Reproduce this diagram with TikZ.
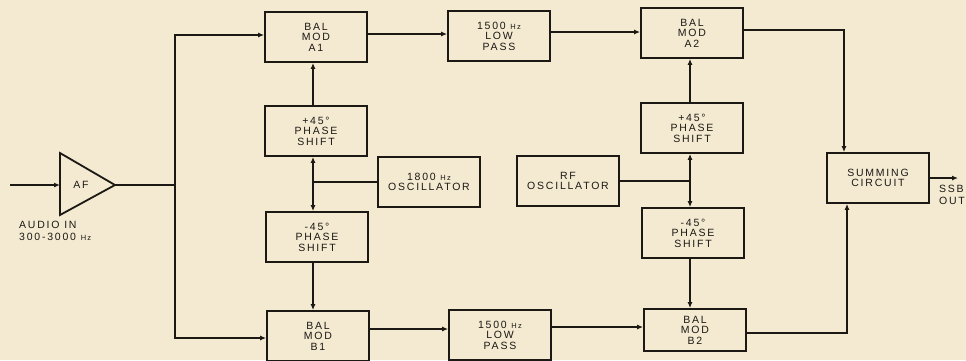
\documentclass[tikz,border=0pt]{standalone}
\usepackage{fontspec}
\setmainfont{Liberation Sans}[LetterSpace=17]
\usetikzlibrary{arrows.meta}
\definecolor{paper}{RGB}{243,234,209}
\definecolor{ink}{RGB}{28,24,20}
\newcommand{\hzunit}{{\fontsize{7.5}{7.5}\selectfont Hz}}
\begin{document}
\begin{tikzpicture}[x=1pt,y=-1pt,
  blk/.style={draw=ink, line width=1.8pt, minimum width=102pt, minimum height=50pt, inner sep=0pt, align=center, font=\fontsize{10.5}{10.6}\selectfont, text=ink},
  wire/.style={draw=ink, line width=2pt},
  arr/.style={wire, -{Latex[length=6pt,width=5pt]}},
  lbl/.style={text=ink, align=left, inner sep=0pt, font=\fontsize{10.5}{12}\selectfont}]
\fill[paper] (0,0) rectangle (966,360);
\useasboundingbox (0,0) rectangle (966,360);
\clip (0,0) rectangle (966,360);
% blocks
\node[blk] (a1) at (316,37) {BAL\\MOD\\A1};
\node[blk] (lp1) at (499,36) {1500 \hzunit\\LOW\\PASS};
\node[blk] (a2) at (692,33) {BAL\\MOD\\A2};
\node[blk] (ps1) at (316,131) {+45°\\PHASE\\SHIFT};
\node[blk] (osc1) at (429,182) {1800 \hzunit\\OSCILLATOR};
\node[blk] (rf) at (568,181) {RF\\OSCILLATOR};
\node[blk] (ps2) at (317,237) {-45°\\PHASE\\SHIFT};
\node[blk] (b1) at (318,336) {BAL\\MOD\\B1};
\node[blk] (lp2) at (500,335) {1500 \hzunit\\LOW\\PASS};
\node[blk] (ps3) at (692,128) {+45°\\PHASE\\SHIFT};
\node[blk] (ps4) at (693,233) {-45°\\PHASE\\SHIFT};
\node[blk, minimum height=42pt] (b2) at (695,330) {BAL\\MOD\\B2};
\node[blk] (sum) at (878,178) {SUMMING\\CIRCUIT};
% amplifier
\coordinate (afl) at (60,185);
\coordinate (aft) at (115,185);
\draw[ink, line width=1.8pt, line join=miter] (60,153) -- (aft) -- (60,215) -- cycle;
\node[text=ink, font=\fontsize{10.5}{10.5}\selectfont] (af) at (81,185) {AF};
\coordinate (in) at (10,185);
\node[lbl, anchor=north west] (audio) at (19,221) {AUDIO IN\\300-3000 \hzunit};
% input and trunk
\draw[arr] (in) -- (afl);
\coordinate (split) at (175,185);
\draw[wire] (aft) -- (split);
\draw[arr] (split) |- ([yshift=2pt]a1.west);
\draw[arr] (split) |- ([yshift=-2pt]b1.west);
% upper path
\draw[arr] ([yshift=3pt]a1.east) -- ([yshift=3pt]a1.east -| lp1.west);
\draw[arr] ([yshift=4pt]lp1.east) -- ([yshift=4pt]lp1.east -| a2.west);
% lower path
\draw[arr] ([yshift=7pt]b1.east) -- ([yshift=7pt]b1.east -| lp2.west);
\draw[arr] ([yshift=8pt]lp2.east) -- ([yshift=8pt]lp2.east -| b2.west);
% left phase network
\coordinate (jl) at ([xshift=-3pt]ps1.south |- osc1.west);
\draw[wire] (osc1.west) -- (jl);
\draw[arr] (jl) -- (jl |- ps1.south);
\draw[arr] (jl) -- (jl |- ps2.north);
\draw[arr] (jl |- ps1.north) -- (jl |- a1.south);
\draw[arr] (jl |- ps2.south) -- (jl |- b1.north);
% right phase network
\coordinate (jr) at ([xshift=-2pt]ps3.south |- rf.east);
\draw[wire] (rf.east) -- (jr);
\draw[arr] (jr) -- (jr |- ps3.south);
\draw[arr] (jr) -- (jr |- ps4.north);
\draw[arr] (jr |- ps3.north) -- (jr |- a2.south);
\draw[arr] (jr |- ps4.south) -- (jr |- b2.north);
% summing
\draw[arr] ([yshift=3pt]a2.east) -| ([xshift=-34pt]sum.north);
\draw[arr] ([yshift=-3pt]b2.east) -| ([xshift=-31pt]sum.south);
\coordinate (out) at (958,178);
\draw[arr] (sum.east) -- (out);
\node[lbl, anchor=north east] (ssb) at (965,185) {SSB\\OUT};
\end{tikzpicture}
\end{document}
